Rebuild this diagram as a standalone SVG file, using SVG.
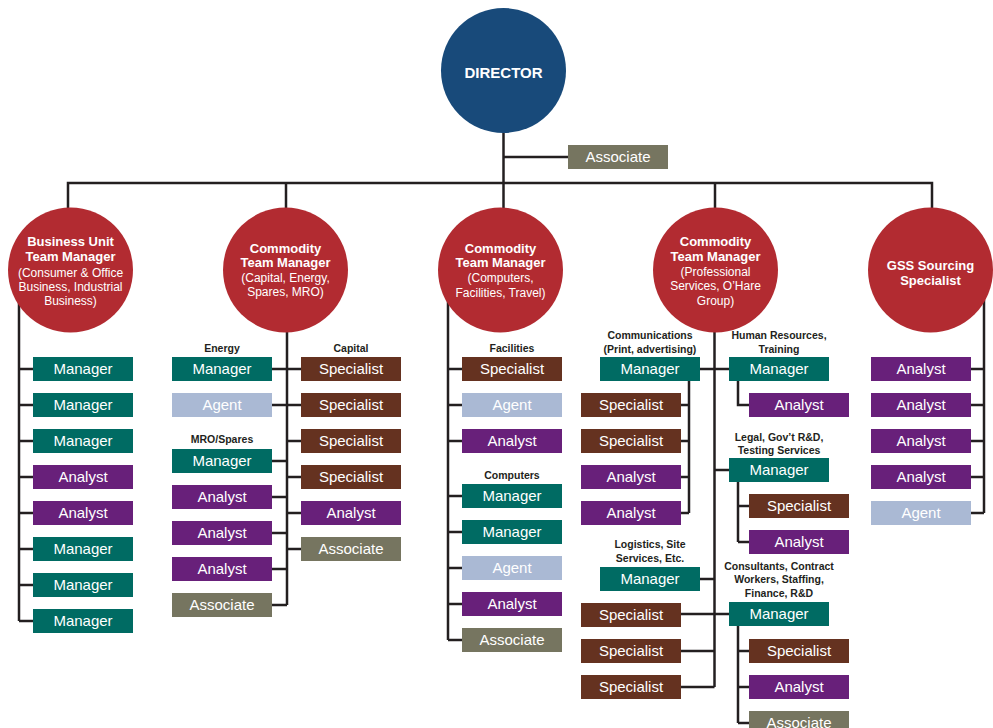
<svg xmlns="http://www.w3.org/2000/svg" width="993" height="728" viewBox="0 0 993 728">
  <style>
    .bg { fill: #ffffff; }
    .wire { fill: none; stroke: #231f20; stroke-width: 2.5; stroke-linecap: butt; stroke-linejoin: miter; }
    .dir { fill: #184a7a; }
    .mgr { fill: #b22b31; }
    .teal { fill: #006b63; }
    .purple { fill: #68207a; }
    .brown { fill: #653220; }
    .agent { fill: #aab9d4; }
    .assoc { fill: #767560; }
    .t { font-family: "Liberation Sans", Arial, sans-serif; font-size: 15px; fill: #ffffff; text-anchor: middle; }
    .ct { font-family: "Liberation Sans", Arial, sans-serif; font-size: 13px; font-weight: bold; fill: #ffffff; text-anchor: middle; }
    .cs { font-family: "Liberation Sans", Arial, sans-serif; font-size: 12px; fill: #ffffff; text-anchor: middle; }
    .dt { font-family: "Liberation Sans", Arial, sans-serif; font-size: 15px; font-weight: bold; fill: #ffffff; text-anchor: middle; }
    .grp { font-family: "Liberation Sans", Arial, sans-serif; font-size: 10.5px; font-weight: bold; fill: #231f20; text-anchor: middle; }
  </style>

  <rect class="bg" x="0" y="0" width="993" height="728"/>

  <!-- connectors -->
  <g id="connectors" class="wire">
    <!-- director trunk, associate and top bus -->
    <path d="M503.5 120 V215"/>
    <path d="M503.5 157 H568"/>
    <path d="M68 215 V183 H932 V215"/>
    <path d="M286 183 V215"/>
    <path d="M715 183 V215"/>

    <!-- business unit column -->
    <path d="M19 300 V621"/>
    <path d="M19 369 H33 M19 405 H33 M19 441 H33 M19 477 H33 M19 513 H33 M19 549 H33 M19 585 H33 M19 621 H33"/>

    <!-- capital / energy / spares / MRO column -->
    <path d="M287 320 V605"/>
    <path d="M272 369 H287 M272 405 H287 M272 461 H287 M272 497 H287 M272 533 H287 M272 569 H287 M272 605 H287"/>
    <path d="M287 369 H301 M287 405 H301 M287 441 H301 M287 477 H301 M287 513 H301 M287 549 H301"/>

    <!-- computers / facilities / travel column -->
    <path d="M448 300 V640"/>
    <path d="M448 369 H462 M448 405 H462 M448 441 H462 M448 496 H462 M448 532 H462 M448 568 H462 M448 604 H462 M448 640 H462"/>

    <!-- professional services column -->
    <path d="M714.5 320 V687"/>
    <path d="M700 369 H729"/>
    <path d="M689 381 V513"/>
    <path d="M681 405 H689 M681 441 H689 M681 477 H689 M681 513 H689"/>
    <path d="M738 381 V405 H749"/>
    <path d="M714.5 470 H729"/>
    <path d="M738 482 V542"/>
    <path d="M738 506 H749 M738 542 H749"/>
    <path d="M700 579 H714.5"/>
    <path d="M681 614 H729"/>
    <path d="M681 651 H714.5 M681 687 H714.5"/>
    <path d="M738 626 V723"/>
    <path d="M738 651 H749 M738 687 H749 M738 723 H749"/>

    <!-- GSS column -->
    <path d="M984 300 V513"/>
    <path d="M971 369 H984 M971 405 H984 M971 441 H984 M971 477 H984 M971 513 H984"/>
  </g>

  <!-- director and associate -->
  <g id="director">
    <circle class="dir" cx="503.5" cy="70.5" r="62.5"/>
    <text class="dt" x="503.5" y="78">DIRECTOR</text>
  </g>
  <g id="director-associate">
    <rect class="assoc" x="568" y="145" width="100" height="24"/>
    <text class="t" x="618" y="162">Associate</text>
  </g>

  <!-- team managers -->
  <g id="bu-manager">
    <circle class="mgr" cx="70.5" cy="270" r="62.5"/>
    <text class="ct" x="70.5" y="246">Business Unit</text>
    <text class="ct" x="70.5" y="261">Team Manager</text>
    <text class="cs" x="70.5" y="277">(Consumer &amp; Office</text>
    <text class="cs" x="70.5" y="291">Business, Industrial</text>
    <text class="cs" x="70.5" y="305">Business)</text>
  </g>
  <g id="ctm-capital">
    <circle class="mgr" cx="285.5" cy="270" r="62.5"/>
    <text class="ct" x="285.5" y="253">Commodity</text>
    <text class="ct" x="285.5" y="267">Team Manager</text>
    <text class="cs" x="285.5" y="282">(Capital, Energy,</text>
    <text class="cs" x="285.5" y="296">Spares, MRO)</text>
  </g>
  <g id="ctm-computers">
    <circle class="mgr" cx="500.5" cy="270" r="62.5"/>
    <text class="ct" x="500.5" y="253">Commodity</text>
    <text class="ct" x="500.5" y="267">Team Manager</text>
    <text class="cs" x="500.5" y="282">(Computers,</text>
    <text class="cs" x="500.5" y="297">Facilities, Travel)</text>
  </g>
  <g id="ctm-professional">
    <circle class="mgr" cx="715.5" cy="270" r="62.5"/>
    <text class="ct" x="715.5" y="246">Commodity</text>
    <text class="ct" x="715.5" y="261">Team Manager</text>
    <text class="cs" x="715.5" y="276">(Professional</text>
    <text class="cs" x="715.5" y="290">Services, O’Hare</text>
    <text class="cs" x="715.5" y="305">Group)</text>
  </g>
  <g id="gss-specialist">
    <circle class="mgr" cx="930.5" cy="270" r="62.5"/>
    <text class="ct" x="930.5" y="270">GSS Sourcing</text>
    <text class="ct" x="930.5" y="285">Specialist</text>
  </g>

  <!-- business unit staff -->
  <g id="bu-1"><rect class="teal" x="33" y="357" width="100" height="24"/><text class="t" x="83" y="374">Manager</text></g>
  <g id="bu-2"><rect class="teal" x="33" y="393" width="100" height="24"/><text class="t" x="83" y="410">Manager</text></g>
  <g id="bu-3"><rect class="teal" x="33" y="429" width="100" height="24"/><text class="t" x="83" y="446">Manager</text></g>
  <g id="bu-4"><rect class="purple" x="33" y="465" width="100" height="24"/><text class="t" x="83" y="482">Analyst</text></g>
  <g id="bu-5"><rect class="purple" x="33" y="501" width="100" height="24"/><text class="t" x="83" y="518">Analyst</text></g>
  <g id="bu-6"><rect class="teal" x="33" y="537" width="100" height="24"/><text class="t" x="83" y="554">Manager</text></g>
  <g id="bu-7"><rect class="teal" x="33" y="573" width="100" height="24"/><text class="t" x="83" y="590">Manager</text></g>
  <g id="bu-8"><rect class="teal" x="33" y="609" width="100" height="24"/><text class="t" x="83" y="626">Manager</text></g>

  <!-- energy and MRO/spares -->
  <text class="grp" x="222" y="352">Energy</text>
  <g id="energy-manager"><rect class="teal" x="172" y="357" width="100" height="24"/><text class="t" x="222" y="374">Manager</text></g>
  <g id="energy-agent"><rect class="agent" x="172" y="393" width="100" height="24"/><text class="t" x="222" y="410">Agent</text></g>
  <text class="grp" x="222" y="443">MRO/Spares</text>
  <g id="mro-manager"><rect class="teal" x="172" y="449" width="100" height="24"/><text class="t" x="222" y="466">Manager</text></g>
  <g id="mro-analyst-1"><rect class="purple" x="172" y="485" width="100" height="24"/><text class="t" x="222" y="502">Analyst</text></g>
  <g id="mro-analyst-2"><rect class="purple" x="172" y="521" width="100" height="24"/><text class="t" x="222" y="538">Analyst</text></g>
  <g id="mro-analyst-3"><rect class="purple" x="172" y="557" width="100" height="24"/><text class="t" x="222" y="574">Analyst</text></g>
  <g id="mro-associate"><rect class="assoc" x="172" y="593" width="100" height="24"/><text class="t" x="222" y="610">Associate</text></g>

  <!-- capital -->
  <text class="grp" x="351" y="352">Capital</text>
  <g id="capital-1"><rect class="brown" x="301" y="357" width="100" height="24"/><text class="t" x="351" y="374">Specialist</text></g>
  <g id="capital-2"><rect class="brown" x="301" y="393" width="100" height="24"/><text class="t" x="351" y="410">Specialist</text></g>
  <g id="capital-3"><rect class="brown" x="301" y="429" width="100" height="24"/><text class="t" x="351" y="446">Specialist</text></g>
  <g id="capital-4"><rect class="brown" x="301" y="465" width="100" height="24"/><text class="t" x="351" y="482">Specialist</text></g>
  <g id="capital-5"><rect class="purple" x="301" y="501" width="100" height="24"/><text class="t" x="351" y="518">Analyst</text></g>
  <g id="capital-6"><rect class="assoc" x="301" y="537" width="100" height="24"/><text class="t" x="351" y="554">Associate</text></g>

  <!-- facilities and computers -->
  <text class="grp" x="512" y="352">Facilities</text>
  <g id="fac-1"><rect class="brown" x="462" y="357" width="100" height="24"/><text class="t" x="512" y="374">Specialist</text></g>
  <g id="fac-2"><rect class="agent" x="462" y="393" width="100" height="24"/><text class="t" x="512" y="410">Agent</text></g>
  <g id="fac-3"><rect class="purple" x="462" y="429" width="100" height="24"/><text class="t" x="512" y="446">Analyst</text></g>
  <text class="grp" x="512" y="479">Computers</text>
  <g id="comp-1"><rect class="teal" x="462" y="484" width="100" height="24"/><text class="t" x="512" y="501">Manager</text></g>
  <g id="comp-2"><rect class="teal" x="462" y="520" width="100" height="24"/><text class="t" x="512" y="537">Manager</text></g>
  <g id="comp-3"><rect class="agent" x="462" y="556" width="100" height="24"/><text class="t" x="512" y="573">Agent</text></g>
  <g id="comp-4"><rect class="purple" x="462" y="592" width="100" height="24"/><text class="t" x="512" y="609">Analyst</text></g>
  <g id="comp-5"><rect class="assoc" x="462" y="628" width="100" height="24"/><text class="t" x="512" y="645">Associate</text></g>

  <!-- communications -->
  <text class="grp" x="650" y="339">Communications</text>
  <text class="grp" x="650" y="353">(Print, advertising)</text>
  <g id="comm-manager"><rect class="teal" x="600" y="357" width="100" height="24"/><text class="t" x="650" y="374">Manager</text></g>
  <g id="comm-1"><rect class="brown" x="581" y="393" width="100" height="24"/><text class="t" x="631" y="410">Specialist</text></g>
  <g id="comm-2"><rect class="brown" x="581" y="429" width="100" height="24"/><text class="t" x="631" y="446">Specialist</text></g>
  <g id="comm-3"><rect class="purple" x="581" y="465" width="100" height="24"/><text class="t" x="631" y="482">Analyst</text></g>
  <g id="comm-4"><rect class="purple" x="581" y="501" width="100" height="24"/><text class="t" x="631" y="518">Analyst</text></g>

  <!-- logistics -->
  <text class="grp" x="650" y="548">Logistics, Site</text>
  <text class="grp" x="650" y="562">Services, Etc.</text>
  <g id="log-manager"><rect class="teal" x="600" y="567" width="100" height="24"/><text class="t" x="650" y="584">Manager</text></g>
  <g id="log-1"><rect class="brown" x="581" y="603" width="100" height="24"/><text class="t" x="631" y="620">Specialist</text></g>
  <g id="log-2"><rect class="brown" x="581" y="639" width="100" height="24"/><text class="t" x="631" y="656">Specialist</text></g>
  <g id="log-3"><rect class="brown" x="581" y="675" width="100" height="24"/><text class="t" x="631" y="692">Specialist</text></g>

  <!-- human resources -->
  <text class="grp" x="779" y="339">Human Resources,</text>
  <text class="grp" x="779" y="353">Training</text>
  <g id="hr-manager"><rect class="teal" x="729" y="357" width="100" height="24"/><text class="t" x="779" y="374">Manager</text></g>
  <g id="hr-analyst"><rect class="purple" x="749" y="393" width="100" height="24"/><text class="t" x="799" y="410">Analyst</text></g>

  <!-- legal -->
  <text class="grp" x="779" y="441">Legal, Gov’t R&amp;D,</text>
  <text class="grp" x="779" y="454">Testing Services</text>
  <g id="legal-manager"><rect class="teal" x="729" y="458" width="100" height="24"/><text class="t" x="779" y="475">Manager</text></g>
  <g id="legal-1"><rect class="brown" x="749" y="494" width="100" height="24"/><text class="t" x="799" y="511">Specialist</text></g>
  <g id="legal-2"><rect class="purple" x="749" y="530" width="100" height="24"/><text class="t" x="799" y="547">Analyst</text></g>

  <!-- consultants -->
  <text class="grp" x="779" y="570">Consultants, Contract</text>
  <text class="grp" x="779" y="583">Workers, Staffing,</text>
  <text class="grp" x="779" y="597">Finance, R&amp;D</text>
  <g id="cons-manager"><rect class="teal" x="729" y="602" width="100" height="24"/><text class="t" x="779" y="619">Manager</text></g>
  <g id="cons-1"><rect class="brown" x="749" y="639" width="100" height="24"/><text class="t" x="799" y="656">Specialist</text></g>
  <g id="cons-2"><rect class="purple" x="749" y="675" width="100" height="24"/><text class="t" x="799" y="692">Analyst</text></g>
  <g id="cons-3"><rect class="assoc" x="749" y="711" width="100" height="24"/><text class="t" x="799" y="728">Associate</text></g>

  <!-- GSS staff -->
  <g id="gss-1"><rect class="purple" x="871" y="357" width="100" height="24"/><text class="t" x="921" y="374">Analyst</text></g>
  <g id="gss-2"><rect class="purple" x="871" y="393" width="100" height="24"/><text class="t" x="921" y="410">Analyst</text></g>
  <g id="gss-3"><rect class="purple" x="871" y="429" width="100" height="24"/><text class="t" x="921" y="446">Analyst</text></g>
  <g id="gss-4"><rect class="purple" x="871" y="465" width="100" height="24"/><text class="t" x="921" y="482">Analyst</text></g>
  <g id="gss-5"><rect class="agent" x="871" y="501" width="100" height="24"/><text class="t" x="921" y="518">Agent</text></g>
</svg>
